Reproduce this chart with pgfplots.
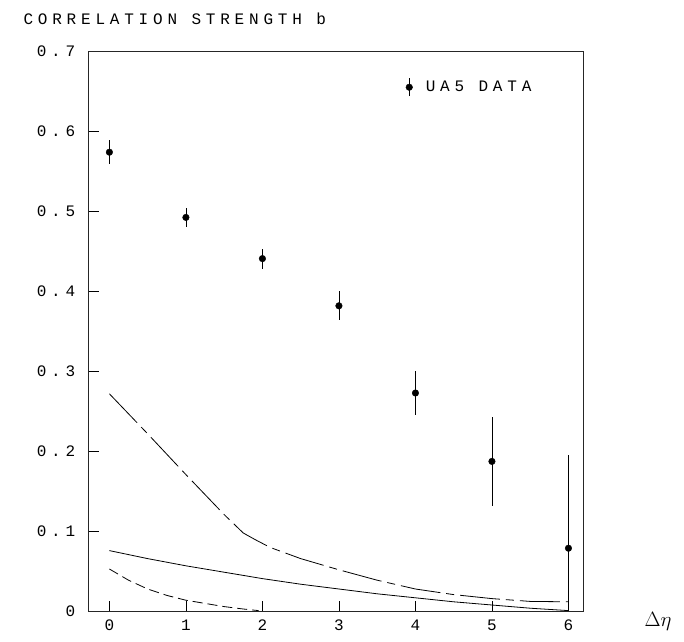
\documentclass[border=0pt]{standalone}
\usepackage{pgfplots}
\pgfplotsset{compat=1.18}
\usepackage{fontspec}
\setmainfont{Liberation Mono}[LetterSpace=30]
\begin{document}
\begin{tikzpicture}[x=1pt,y=1pt]
\path (0,0) rectangle (684,641);
\begin{axis}[
  at={(116,37)}, anchor=south west,
  scale only axis, width=495pt, height=560pt,
  xmin=-0.27, xmax=6.2, ymin=0, ymax=0.7,
  axis line style={line width=0.8pt, black!85},
  xtick={0,1,2,3,4,5,6}, xticklabels={0,1,2,3,4,5,6},
  ytick={0,0.1,0.2,0.3,0.4,0.5,0.6,0.7},
  yticklabels={0,0.1,0.2,0.3,0.4,0.5,0.6,0.7},
  tick pos=left, tick align=inside,
  major tick length=10pt,
  every tick/.style={black, line width=0.8pt},
  tick label style={font=\fontsize{16}{19}\selectfont},
  xticklabel style={yshift=-5pt},
  yticklabel style={xshift=-10pt},
  legend style={draw=none, fill=none, at={(rel axis cs:0.64,0.936)}, anchor=west,
    font=\fontsize{16}{19}\selectfont, inner sep=0pt},
  legend cell align=left,
  clip=false,
]
\addplot[black, only marks, mark=*, mark size=3.3pt,
  legend image code/.code={\draw[line width=0.8pt] (0.2cm,-9pt) -- (0.2cm,9pt); \fill (0.2cm,0pt) circle (3.3pt);},
  error bars/.cd, y dir=both, y explicit, error mark=none,
  error bar style={line width=0.8pt, black}]
  coordinates {
  (0,0.574) +- (0,0.015)
  (1,0.4925) +- (0,0.012)
  (2,0.441) +- (0,0.0125)
  (3,0.382) +- (0,0.018)
  (4,0.273) +- (0,0.028)
  (5,0.1875) +- (0,0.056)
  (6,0.079) += (0,0.117) -= (0,0.079)
  };
\addlegendentry{\hspace*{11pt}UA5 DATA}
\addplot[black, line width=0.8pt, dash pattern=on 40pt off 6pt on 8pt off 6pt, forget plot]
  coordinates {(0,0.272) (0.5,0.222) (1,0.171) (1.5,0.121) (1.75,0.098) (1.9,0.090) (2.1,0.080) (2.5,0.066) (3,0.052) (3.5,0.039) (4,0.028) (4.5,0.021) (5,0.016) (5.5,0.0125) (6,0.012)};
\addplot[black, line width=0.8pt, forget plot]
  coordinates {(0,0.076) (0.5,0.066) (1,0.057) (1.5,0.049) (2,0.041) (2.5,0.034) (3,0.028) (3.5,0.022) (4,0.017) (4.5,0.012) (5,0.008) (5.5,0.004) (6,0.001)};
\addplot[black, line width=0.8pt, dash pattern=on 10pt off 5pt, forget plot]
  coordinates {(0,0.053) (0.25,0.039) (0.5,0.028) (0.75,0.020) (1,0.014) (1.25,0.010) (1.5,0.006) (1.75,0.003) (1.95,0.001)};
\end{axis}
\node[anchor=base west, font=\fontsize{16}{19}\selectfont] at (20,616) {CORRELATION STRENGTH b};
\node[anchor=center, font=\fontsize{20}{24}\selectfont] at (658,20) {$\Delta\eta$};
\end{tikzpicture}
\end{document}
